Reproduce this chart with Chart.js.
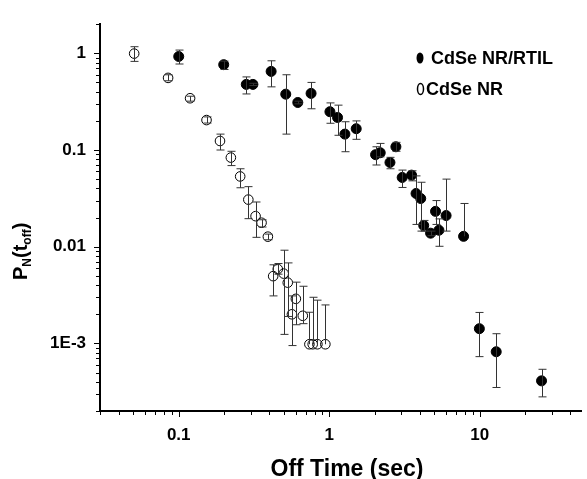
<!DOCTYPE html>
<html>
<head>
<meta charset="utf-8">
<script src="https://cdn.jsdelivr.net/npm/chart.js@4.4.1/dist/chart.umd.min.js"></script>
<style>
  body { margin: 0; background: #fff; }
  #chart { display: block; }
</style>
</head>
<body>
<canvas id="chart" width="587" height="479"></canvas>
<script>
// CdSe NR/RTIL (filled)
const rtilTime = [0.100, 0.199, 0.281, 0.311, 0.411, 0.514, 0.618, 0.757, 1.01, 1.135, 1.27, 1.51, 2.03, 2.18, 2.53, 2.77, 3.05, 3.52, 3.77, 4.05, 4.24, 4.71, 5.08, 5.35, 5.97, 7.8, 9.93, 12.85, 25.7];
const rtilProb = [0.927, 0.763, 0.477, 0.477, 0.65, 0.378, 0.31, 0.385, 0.249, 0.217, 0.146, 0.166, 0.0895, 0.0937, 0.0743, 0.108, 0.052, 0.055, 0.0355, 0.0315, 0.0166, 0.0138, 0.0232, 0.0148, 0.021, 0.0128, 0.00142, 0.00082, 0.00041];
const rtilHigh = [1.08, 0.83, 0.57, 0.49, 0.837, 0.60, 0.32, 0.50, 0.307, 0.291, 0.196, 0.2, 0.108, 0.117, 0.084, 0.12, 0.062, 0.061, 0.054, 0.0464, 0.0187, 0.0145, 0.030, 0.0194, 0.05, 0.028, 0.00209, 0.00126, 0.00054];
const rtilLow = [0.775, 0.68, 0.38, 0.465, 0.45, 0.146, 0.30, 0.267, 0.189, 0.142, 0.096, 0.129, 0.070, 0.085, 0.064, 0.097, 0.041, 0.048, 0.017, 0.0145, 0.0145, 0.013, 0.017, 0.0101, 0.0145, 0.0128, 0.00073, 0.00035, 0.00028];

// CdSe NR (open)
const nrTime = [0.0506, 0.085, 0.119, 0.153, 0.188, 0.222, 0.256, 0.290, 0.324, 0.355, 0.391, 0.424, 0.455, 0.498, 0.530, 0.600, 0.565, 0.667, 0.738, 0.776, 0.834, 0.942];
const nrProb = [0.993, 0.557, 0.343, 0.204, 0.124, 0.0835, 0.0533, 0.0307, 0.0207, 0.0177, 0.0127, 0.00496, 0.00587, 0.00527, 0.00425, 0.00289, 0.0020, 0.00193, 0.00098, 0.00098, 0.00098, 0.00098];
const nrHigh = [1.17, 0.6, 0.36, 0.22, 0.146, 0.097, 0.064, 0.0418, 0.029, 0.019, 0.0135, 0.0065, 0.0067, 0.0092, 0.0068, 0.0043, 0.0031, 0.0039, 0.0021, 0.003, 0.0028, 0.0025];
const nrLow = [0.825, 0.52, 0.32, 0.19, 0.1, 0.069, 0.0407, 0.0195, 0.0125, 0.016, 0.0118, 0.0031, 0.0052, 0.00124, 0.0019, 0.00156, 0.00095, 0.0016, 0.00098, 0.00098, 0.00098, 0.00098];

const xTickValues = [0.1, 1, 10];
const xTickLabels = ["0.1", "1", "10"];
const yTickValues = [1, 0.1, 0.01, 0.001];
const yTickLabels = ["1", "0.1", "0.01", "1E-3"];

const FONT = "'Liberation Sans', Arial, sans-serif";

function points(xs, ys, hi, lo) {
    return xs.map((x, i) => ({ x: x, y: ys[i], hi: hi[i], lo: lo[i] }));
}

// log ticks 1..9 x 10^n between min and max
function logTicks(min, max) {
    let out = [];
    for (let e = -5; e <= 3; e++) {
        for (let m = 1; m <= 9; m++) {
            let v = parseFloat((m * Math.pow(10, e)).toPrecision(3));
            if (v >= min * 0.999 && v <= max * 1.001) out.push({ value: v, major: m === 1 });
        }
    }
    return out;
}

const errorBars = {
    id: "errorBars",
    afterDatasetsDraw(chart) {
        const ctx = chart.ctx;
        const xs = chart.scales.x, ys = chart.scales.y;
        ctx.save();
        ctx.strokeStyle = "#333";
        ctx.lineWidth = 1;
        chart.data.datasets.forEach(ds => {
            ds.data.forEach(p => {
                let px = Math.round(xs.getPixelForValue(p.x)) + 0.5;
                let top = ys.getPixelForValue(p.hi);
                let bot = ys.getPixelForValue(p.lo);
                ctx.beginPath();
                ctx.moveTo(px, top);
                ctx.lineTo(px, bot);
                ctx.moveTo(px - 4, top);
                ctx.lineTo(px + 4, top);
                if (p.lo < p.y) {
                    ctx.moveTo(px - 4, bot);
                    ctx.lineTo(px + 4, bot);
                }
                ctx.stroke();
            });
        });
        ctx.restore();
    }
};

const decorations = {
    id: "decorations",
    afterDraw(chart) {
        const ctx = chart.ctx;
        const xs = chart.scales.x, ys = chart.scales.y;
        const area = chart.chartArea;
        ctx.save();
        ctx.strokeStyle = "#000";
        ctx.lineWidth = 1;
        // tick marks
        xs.ticks.forEach(t => {
            let px = Math.round(xs.getPixelForValue(t.value)) + 0.5;
            ctx.beginPath();
            ctx.moveTo(px, area.bottom);
            ctx.lineTo(px, area.bottom + (t.major ? 6 : 4));
            ctx.stroke();
        });
        ys.ticks.forEach(t => {
            let py = Math.round(ys.getPixelForValue(t.value)) + 0.5;
            ctx.beginPath();
            ctx.moveTo(area.left, py);
            ctx.lineTo(area.left - (t.major ? 6 : 4), py);
            ctx.stroke();
        });

        ctx.fillStyle = "#000";
        ctx.textBaseline = "alphabetic";
        // x title
        ctx.font = "bold 23px " + FONT;
        ctx.textAlign = "center";
        ctx.fillText("Off Time (sec)", 347, 476);

        // y title P_N(t_off), rotated
        ctx.translate(27, 280);
        ctx.rotate(-Math.PI / 2);
        ctx.textAlign = "left";
        let x = 0;
        const big = "bold 20px " + FONT, small = "bold 12px " + FONT;
        const parts = [["P", big, 0], ["N", small, 4], ["(t", big, 0], ["off", small, 4], [")", big, 0]];
        parts.forEach(([s, f, dy]) => {
            ctx.font = f;
            ctx.fillText(s, x, dy);
            x += ctx.measureText(s).width;
        });
        ctx.restore();

        // legend
        ctx.save();
        ctx.fillStyle = "#000";
        ctx.strokeStyle = "#000";
        ctx.beginPath();
        ctx.ellipse(420, 58, 3.5, 5.5, 0, 0, Math.PI * 2);
        ctx.fill();
        ctx.lineWidth = 1.5;
        ctx.beginPath();
        ctx.ellipse(420.5, 89, 3, 5.5, 0, 0, Math.PI * 2);
        ctx.stroke();
        ctx.font = "bold 18px " + FONT;
        ctx.textAlign = "left";
        ctx.fillText(chart.data.datasets[0].label, 431, 64);
        ctx.fillText(chart.data.datasets[1].label, 426, 95);
        ctx.restore();
    }
};

new Chart(document.getElementById("chart"), {
    type: "scatter",
    data: {
        datasets: [
            {
                label: "CdSe NR/RTIL",
                data: points(rtilTime, rtilProb, rtilHigh, rtilLow),
                pointRadius: 5,
                pointBackgroundColor: "#000",
                pointBorderColor: "#000",
                pointBorderWidth: 1
            },
            {
                label: "CdSe NR",
                data: points(nrTime, nrProb, nrHigh, nrLow),
                pointRadius: 4.8,
                pointBackgroundColor: "rgba(255,255,255,0)",
                pointBorderColor: "#000",
                pointBorderWidth: 1
            }
        ]
    },
    options: {
        responsive: false,
        animation: false,
        layout: { padding: { top: 14, right: 0, bottom: 0, left: 0 } },
        plugins: { legend: { display: false }, tooltip: { enabled: false } },
        scales: {
            x: {
                type: "logarithmic",
                position: "bottom",
                min: 0.03,
                max: 47,
                afterBuildTicks: s => { s.ticks = logTicks(0.03, 47); },
                afterFit: s => { s.height = 68; },
                grid: { display: false, drawTicks: false, tickLength: 0 },
                border: { display: true, color: "#000", width: 2 },
                ticks: {
                    autoSkip: false,
                    maxRotation: 0,
                    padding: 14,
                    color: "#000",
                    font: { family: FONT, size: 17, weight: "bold" },
                    callback: v => {
                        let i = xTickValues.findIndex(t => Math.abs(t - v) < t * 1e-6);
                        return i >= 0 ? xTickLabels[i] : "";
                    }
                }
            },
            y: {
                type: "logarithmic",
                position: "left",
                min: 0.0002,
                max: 2,
                afterBuildTicks: s => { s.ticks = logTicks(0.0002, 2); },
                afterFit: s => { s.width = 100; },
                grid: { display: false, drawTicks: false, tickLength: 0 },
                border: { display: true, color: "#000", width: 2 },
                ticks: {
                    autoSkip: false,
                    padding: 14,
                    color: "#000",
                    font: { family: FONT, size: 17, weight: "bold" },
                    callback: v => {
                        let i = yTickValues.findIndex(t => Math.abs(t - v) < t * 1e-6);
                        return i >= 0 ? yTickLabels[i] : "";
                    }
                }
            }
        }
    },
    plugins: [errorBars, decorations]
});
</script>
</body>
</html>
